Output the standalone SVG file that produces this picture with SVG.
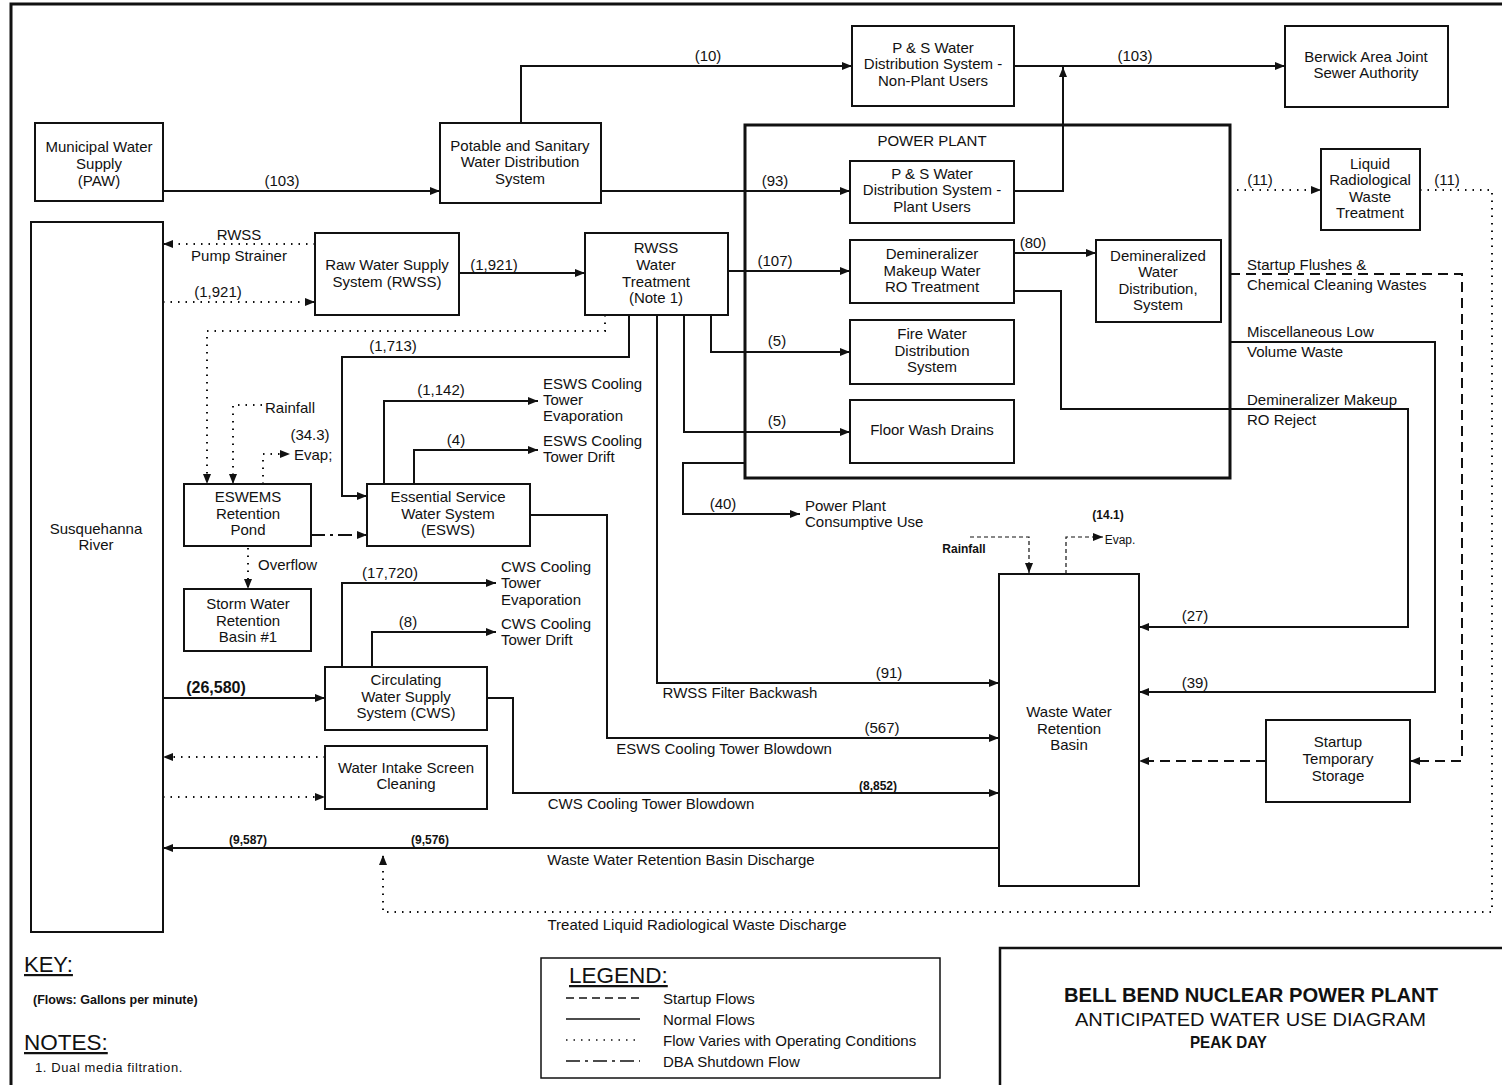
<svg xmlns="http://www.w3.org/2000/svg" width="1502" height="1085" viewBox="0 0 1502 1085">
<style>
text{font-family:"Liberation Sans",Arial,sans-serif;font-size:15px;fill:#111}
.c{text-anchor:middle}
.b{font-weight:bold}
.s{font-size:12px;font-weight:bold}
.box{fill:#fff;stroke:#111;stroke-width:2}
.ln{fill:none;stroke:#111;stroke-width:2}
.dot{fill:none;stroke:#111;stroke-width:2;stroke-dasharray:1.5 6}
.dash{fill:none;stroke:#111;stroke-width:2;stroke-dasharray:10 6}
.dd{fill:none;stroke:#111;stroke-width:2;stroke-dasharray:14 5 3 5}
.arr{marker-end:url(#a)}
</style>
<defs>
<marker id="a" viewBox="0 0 10 8" refX="10" refY="4" markerWidth="11" markerHeight="8" markerUnits="userSpaceOnUse" orient="auto"><path d="M0,0 L10,4 L0,8 z" fill="#111"/></marker>
</defs>
<rect width="1502" height="1085" fill="#fff"/>
<path d="M11,1085 V4 H1502" class="ln" style="stroke-width:3"/>

<g id="connectors">
<path class="ln arr" d="M163,191 H440"/>
<path class="ln arr" d="M521,123 V66 H852"/>
<path class="ln arr" d="M601,191 H850"/>
<path class="ln arr" d="M1014,66 H1285"/>
<path class="ln arr" d="M1014,191 H1063 V67"/>
<path class="dot arr" d="M1237,190 H1321"/>
<path class="dot arr" d="M1420,190 H1492 V912 H383 V855"/>
<path class="dot arr" d="M315,244 H163"/>
<path class="dot arr" d="M163,302 H315"/>
<path class="ln arr" d="M459,273 H585"/>
<path class="ln arr" d="M728,271 H850"/>
<path class="ln arr" d="M711,315 V352 H850"/>
<path class="ln arr" d="M684,315 V432 H850"/>
<path class="ln arr" d="M745,463 H683 V514 H800"/>
<path class="ln arr" d="M657,315 V683 H999"/>
<path class="dot arr" d="M605,315 V331 H207 V484"/>
<path class="ln arr" d="M629,315 V357 H342 V496 H367"/>
<path class="ln arr" d="M384,484 V401 H538"/>
<path class="ln arr" d="M414,484 V450 H538"/>
<path class="dot arr" d="M262,405 H233 V484"/>
<path class="dot arr" d="M263,484 V454 H290"/>
<path class="dd arr" d="M311,535 H367"/>
<path class="dot arr" d="M248,548 V589"/>
<path class="ln arr" d="M530,515 H607 V738 H999"/>
<path class="ln arr" d="M342,667 V583 H496"/>
<path class="ln arr" d="M372,667 V632 H496"/>
<path class="ln arr" d="M163,698 H325"/>
<path class="ln arr" d="M487,698 H513 V793 H999"/>
<path class="dot arr" d="M325,757 H163"/>
<path class="dot arr" d="M163,797 H325"/>
<path class="ln arr" d="M999,848 H163"/>
<path class="dash arr" style="stroke-width:1.2;stroke-dasharray:4 3" d="M970,537 H1029 V573"/>
<path class="dash arr" style="stroke-width:1.2;stroke-dasharray:4 3" d="M1066,574 V537 H1103"/>
<path class="dash arr" d="M1230,274 H1462 V761 H1410"/>
<path class="ln arr" d="M1230,342 H1435 V692 H1139"/>
<path class="ln arr" d="M1014,291 H1061 V409 H1408 V627 H1139"/>
<path class="ln arr" d="M1014,253 H1096"/>
<path class="dash arr" d="M1266,761 H1139"/>
</g>

<g id="labels">
<text x="282" y="186" class="c">(103)</text>
<text x="708" y="61" class="c">(10)</text>
<text x="775" y="186" class="c">(93)</text>
<text x="1135" y="61" class="c">(103)</text>
<text x="1260" y="185" class="c">(11)</text>
<text x="1447" y="185" class="c">(11)</text>
<text x="697" y="930" class="c">Treated Liquid Radiological Waste Discharge</text>
<text x="239" y="240" class="c">RWSS</text>
<text x="239" y="261" class="c">Pump Strainer</text>
<text x="218" y="297" class="c">(1,921)</text>
<text x="494" y="270" class="c">(1,921)</text>
<text x="775" y="266" class="c">(107)</text>
<text x="777" y="346" class="c">(5)</text>
<text x="777" y="426" class="c">(5)</text>
<text x="723" y="509" class="c">(40)</text>
<text x="805" y="511">Power Plant</text>
<text x="805" y="527">Consumptive Use</text>
<text x="889" y="678" class="c">(91)</text>
<text x="740" y="698" class="c">RWSS Filter Backwash</text>
<text x="393" y="351" class="c">(1,713)</text>
<text x="441" y="395" class="c">(1,142)</text>
<text x="543" y="389">ESWS Cooling</text>
<text x="543" y="405">Tower</text>
<text x="543" y="421">Evaporation</text>
<text x="456" y="445" class="c">(4)</text>
<text x="543" y="446">ESWS Cooling</text>
<text x="543" y="462">Tower Drift</text>
<text x="265" y="413">Rainfall</text>
<text x="310" y="440" class="c">(34.3)</text>
<text x="294" y="460">Evap;</text>
<text x="258" y="570">Overflow</text>
<text x="882" y="733" class="c">(567)</text>
<text x="724" y="754" class="c">ESWS Cooling Tower Blowdown</text>
<text x="390" y="578" class="c">(17,720)</text>
<text x="501" y="572">CWS Cooling</text>
<text x="501" y="588">Tower</text>
<text x="501" y="605">Evaporation</text>
<text x="408" y="627" class="c">(8)</text>
<text x="501" y="629">CWS Cooling</text>
<text x="501" y="645">Tower Drift</text>
<text x="216" y="693" class="c b" style="font-size:16px">(26,580)</text>
<text x="878" y="790" class="c s">(8,852)</text>
<text x="651" y="809" class="c">CWS Cooling Tower Blowdown</text>
<text x="248" y="844" class="c s">(9,587)</text>
<text x="430" y="844" class="c s">(9,576)</text>
<text x="681" y="865" class="c">Waste Water Retention Basin Discharge</text>
<text x="964" y="553" class="c s">Rainfall</text>
<text x="1108" y="519" class="c s">(14.1)</text>
<text x="1120" y="544" class="c" style="font-size:12px">Evap.</text>
<text x="1247" y="270">Startup Flushes &amp;</text>
<text x="1247" y="290">Chemical Cleaning Wastes</text>
<text x="1247" y="337">Miscellaneous Low</text>
<text x="1247" y="357">Volume Waste</text>
<text x="1247" y="405">Demineralizer Makeup</text>
<text x="1247" y="425">RO Reject</text>
<text x="1195" y="621" class="c">(27)</text>
<text x="1195" y="688" class="c">(39)</text>
<text x="1033" y="248" class="c">(80)</text>
</g>

<g id="power-plant">
<rect x="745" y="125" width="485" height="353" fill="none" stroke="#111" stroke-width="3"/>
<text x="932" y="146" class="c">POWER PLANT</text>
</g>

<g id="n-paw"><rect class="box" x="35" y="123" width="128" height="78"/>
<text x="99" y="152" class="c">Municipal Water</text><text x="99" y="169" class="c">Supply</text><text x="99" y="186" class="c">(PAW)</text></g>

<g id="n-potable"><rect class="box" x="440" y="123" width="161" height="80"/>
<text x="520" y="151" class="c">Potable and Sanitary</text><text x="520" y="167" class="c">Water Distribution</text><text x="520" y="184" class="c">System</text></g>

<g id="n-nonplant"><rect class="box" x="852" y="26" width="162" height="80"/>
<text x="933" y="53" class="c">P &amp; S Water</text><text x="933" y="69" class="c">Distribution System -</text><text x="933" y="86" class="c">Non-Plant Users</text></g>

<g id="n-berwick"><rect class="box" x="1285" y="26" width="163" height="81"/>
<text x="1366" y="62" class="c">Berwick Area Joint</text><text x="1366" y="78" class="c">Sewer Authority</text></g>

<g id="n-plantusers"><rect class="box" x="850" y="161" width="164" height="62"/>
<text x="932" y="179" class="c">P &amp; S Water</text><text x="932" y="195" class="c">Distribution System -</text><text x="932" y="212" class="c">Plant Users</text></g>

<g id="n-lrw"><rect class="box" x="1321" y="149" width="99" height="81"/>
<text x="1370" y="169" class="c">Liquid</text><text x="1370" y="185" class="c">Radiological</text><text x="1370" y="202" class="c">Waste</text><text x="1370" y="218" class="c">Treatment</text></g>

<g id="n-demin-ro"><rect class="box" x="850" y="240" width="164" height="63"/>
<text x="932" y="259" class="c">Demineralizer</text><text x="932" y="276" class="c">Makeup Water</text><text x="932" y="292" class="c">RO Treatment</text></g>

<g id="n-demin-dist"><rect class="box" x="1096" y="240" width="125" height="82"/>
<text x="1158" y="261" class="c">Demineralized</text><text x="1158" y="277" class="c">Water</text><text x="1158" y="294" class="c">Distribution,</text><text x="1158" y="310" class="c">System</text></g>

<g id="n-fire"><rect class="box" x="850" y="320" width="164" height="64"/>
<text x="932" y="339" class="c">Fire Water</text><text x="932" y="356" class="c">Distribution</text><text x="932" y="372" class="c">System</text></g>

<g id="n-floor"><rect class="box" x="850" y="400" width="164" height="63"/>
<text x="932" y="435" class="c">Floor Wash Drains</text></g>

<g id="n-river"><rect class="box" x="31" y="222" width="132" height="710"/>
<text x="96" y="534" class="c">Susquehanna</text><text x="96" y="550" class="c">River</text></g>

<g id="n-rwss"><rect class="box" x="315" y="233" width="144" height="82"/>
<text x="387" y="270" class="c">Raw Water Supply</text><text x="387" y="287" class="c">System (RWSS)</text></g>

<g id="n-rwss-wt"><rect class="box" x="585" y="233" width="143" height="82"/>
<text x="656" y="253" class="c">RWSS</text><text x="656" y="270" class="c">Water</text><text x="656" y="287" class="c">Treatment</text><text x="656" y="303" class="c">(Note 1)</text></g>

<g id="n-eswems"><rect class="box" x="184" y="484" width="127" height="62"/>
<text x="248" y="502" class="c">ESWEMS</text><text x="248" y="519" class="c">Retention</text><text x="248" y="535" class="c">Pond</text></g>

<g id="n-esws"><rect class="box" x="367" y="484" width="163" height="62"/>
<text x="448" y="502" class="c">Essential Service</text><text x="448" y="519" class="c">Water System</text><text x="448" y="535" class="c">(ESWS)</text></g>

<g id="n-storm"><rect class="box" x="184" y="589" width="127" height="62"/>
<text x="248" y="609" class="c">Storm Water</text><text x="248" y="626" class="c">Retention</text><text x="248" y="642" class="c">Basin #1</text></g>

<g id="n-cws"><rect class="box" x="325" y="667" width="162" height="63"/>
<text x="406" y="685" class="c">Circulating</text><text x="406" y="702" class="c">Water Supply</text><text x="406" y="718" class="c">System (CWS)</text></g>

<g id="n-intake"><rect class="box" x="325" y="746" width="162" height="63"/>
<text x="406" y="773" class="c">Water Intake Screen</text><text x="406" y="789" class="c">Cleaning</text></g>

<g id="n-wwrb"><rect class="box" x="999" y="574" width="140" height="312"/>
<text x="1069" y="717" class="c">Waste Water</text><text x="1069" y="734" class="c">Retention</text><text x="1069" y="750" class="c">Basin</text></g>

<g id="n-startup"><rect class="box" x="1266" y="720" width="144" height="82"/>
<text x="1338" y="747" class="c">Startup</text><text x="1338" y="764" class="c">Temporary</text><text x="1338" y="781" class="c">Storage</text></g>

<g id="key">
<text x="24" y="972" style="font-size:22px;text-decoration:underline">KEY:</text>
<text x="33" y="1004" class="b" style="font-size:12.5px">(Flows: Gallons per minute)</text>
<text x="24" y="1050" style="font-size:22.5px;text-decoration:underline">NOTES:</text>
<text x="35" y="1072" style="font-size:13px;letter-spacing:0.6px">1. Dual media filtration.</text>
</g>

<g id="legend">
<rect x="541" y="958" width="399" height="120" fill="none" stroke="#111" stroke-width="1.5"/>
<text x="569" y="983" style="font-size:22.5px;text-decoration:underline">LEGEND:</text>
<line x1="566" y1="998" x2="640" y2="998" class="dash" style="stroke-width:1.5;stroke-dasharray:8 5"/>
<text x="663" y="1004">Startup Flows</text>
<line x1="566" y1="1019" x2="640" y2="1019" class="ln" style="stroke-width:1.5"/>
<text x="663" y="1025">Normal Flows</text>
<line x1="566" y1="1040" x2="640" y2="1040" class="dot" style="stroke-width:1.5"/>
<text x="663" y="1046">Flow Varies with Operating Conditions</text>
<line x1="566" y1="1061" x2="640" y2="1061" class="dd" style="stroke-width:1.5"/>
<text x="663" y="1067">DBA Shutdown Flow</text>
</g>

<g id="title">
<path d="M1000,1085 V948 H1502" fill="none" stroke="#111" stroke-width="2.5"/>
<text x="1064" y="1002" class="b" style="font-size:20px" textLength="374" lengthAdjust="spacingAndGlyphs">BELL BEND NUCLEAR POWER PLANT</text>
<text x="1075" y="1026" style="font-size:19px" textLength="351" lengthAdjust="spacingAndGlyphs">ANTICIPATED WATER USE DIAGRAM</text>
<text x="1190" y="1048" class="b" style="font-size:17px" textLength="77" lengthAdjust="spacingAndGlyphs">PEAK DAY</text>
</g>
</svg>
